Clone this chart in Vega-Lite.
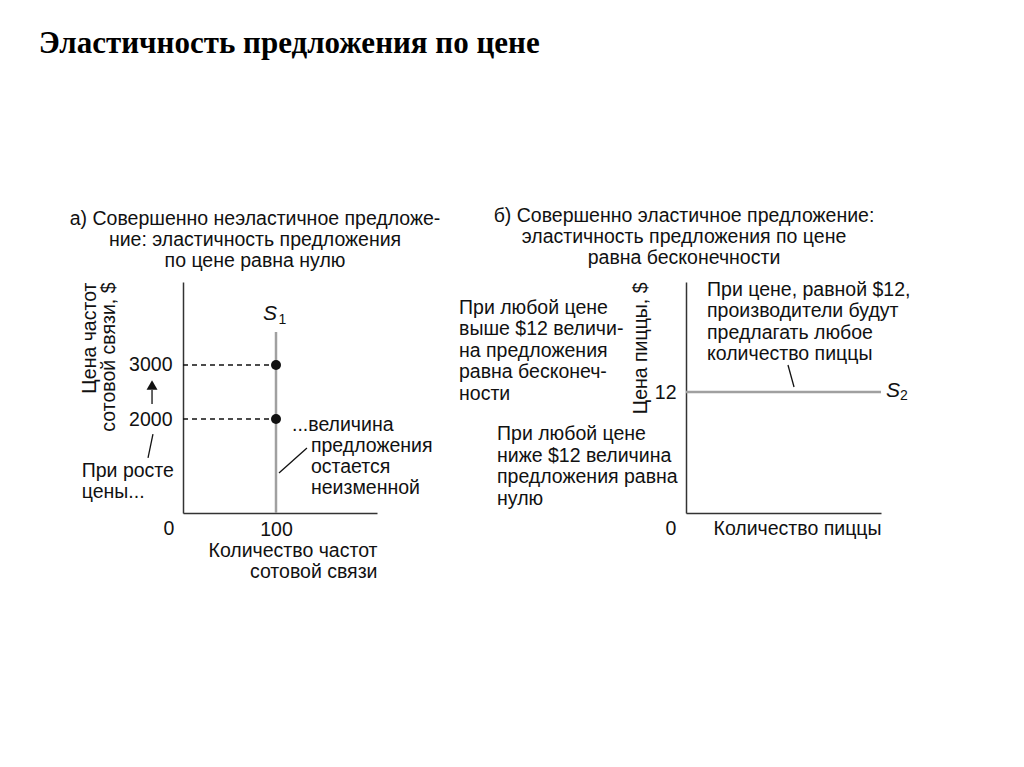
{
  "$schema": "https://vega.github.io/schema/vega-lite/v6.json",
  "background": "white",
  "padding": {"left": 38, "top": 28, "right": 10, "bottom": 10},
  "title": {"text": "Эластичность предложения по цене", "anchor": "start", "font": "Liberation Serif", "fontSize": 31, "fontWeight": "bold", "color": "#000", "dx": -31, "offset": 146},
  "config": {
    "font": "Liberation Sans",
    "view": {"stroke": null},
    "axis": {"grid": false, "ticks": false, "tickSize": 0, "domainColor": "#333", "domainWidth": 1.5, "labelFont": "Liberation Sans", "labelFontSize": 19.5, "labelColor": "#111", "titleFont": "Liberation Sans", "titleFontSize": 19.5, "titleFontWeight": "normal", "titleColor": "#111", "titleLineHeight": 21},
    "title": {"font": "Liberation Sans", "fontSize": 19.5, "fontWeight": "normal", "color": "#111"},
    "text": {"font": "Liberation Sans", "fontSize": 19.5, "color": "#111"}
  },
  "datasets": {
    "aDash": [{"x": 0, "x2": 100, "y": 3000}, {"x": 0, "x2": 100, "y": 2000}],
    "aSupply": [{"x": 100, "y": 259.3, "y2": 3611}],
    "aPoints": [{"x": 100, "y": 3000}, {"x": 100, "y": 2000}],
    "aPointers": [{"x": 103.2, "y": 1000, "x2": 133.3, "y2": 1463}, {"x": -32.3, "y": 1722, "x2": -37.6, "y2": 1278}, {"x": -33.3, "y": 2537, "x2": -33.3, "y2": 2278}],
    "aArrow": [{"x": -33.3, "y": 2630}],
    "aText": [{"x": 117.2, "y": 1778, "t": "...величина"}, {"x": 137.6, "y": 1389, "t": "предложения\nостается\nнеизменной"}, {"x": -108.9, "y": 926, "t": "При росте\nцены..."}],
    "aS": [{"x": 93.5, "y": 3833, "t": "S"}],
    "aSub": [{"x": 107, "y": 3759, "t": "1"}],
    "aZero": [{"x": 0, "y": 259.3, "t": "0"}],
    "bSupply": [{"x": 0, "x2": 100, "y": 12}],
    "bPointer": [{"x": 52.3, "y": 14.68, "x2": 55.4, "y2": 12.5}],
    "bText": [{"x": 10.8, "y": 21.57, "t": "При цене, равной $12,\nпроизводители будут\nпредлагать любое\nколичество пиццы"}, {"x": -116.4, "y": 19.78, "t": "При любой цене\nвыше $12 величи-\nна предложения\nравна бесконеч-\nности"}, {"x": -96.9, "y": 7.21, "t": "При любой цене\nниже $12 величина\nпредложения равна\nнулю"}],
    "bS": [{"x": 106.2, "y": 11.51, "t": "S"}],
    "bSub": [{"x": 111.8, "y": 11.21, "t": "2"}],
    "bZero": [{"x": 0, "y": 0, "t": "0"}]
  },
  "spacing": 309,
  "bounds": "flush",
  "hconcat": [
    {
      "width": 194,
      "height": 231,
      "title": {"text": ["а) Совершенно неэластичное предложе-", "ние: эластичность предложения", "по цене равна нулю"], "anchor": "middle", "frame": "group", "dx": -25, "lineHeight": 21, "offset": 11},
      "encoding": {
        "x": {"field": "x", "type": "quantitative", "scale": {"domain": [0, 208.6], "nice": false, "zero": false}, "axis": {"values": [100], "labelPadding": 7, "title": ["Количество частот", "сотовой связи"], "titleAnchor": "end", "titlePadding": 3}},
        "y": {"field": "y", "type": "quantitative", "scale": {"domain": [259.3, 4537], "nice": false, "zero": false}, "axis": {"values": [2000, 3000], "format": "d", "labelPadding": 11, "title": ["Цена частот", "сотовой связи, $"], "titleAnchor": "end", "titlePadding": 10, "titleLineHeight": 19}}
      },
      "layer": [
        {"data": {"name": "aDash"}, "mark": {"type": "rule", "strokeDash": [5, 4], "color": "#111", "strokeWidth": 1.3}, "encoding": {"x2": {"field": "x2"}}},
        {"data": {"name": "aSupply"}, "mark": {"type": "rule", "color": "#a0a0a0", "strokeWidth": 2.5}, "encoding": {"y2": {"field": "y2"}}},
        {"data": {"name": "aPoints"}, "mark": {"type": "point", "filled": true, "color": "#111", "size": 100, "opacity": 1}, "encoding": {}},
        {"data": {"name": "aPointers"}, "mark": {"type": "rule", "color": "#111", "strokeWidth": 1.3}, "encoding": {"x2": {"field": "x2"}, "y2": {"field": "y2"}}},
        {"data": {"name": "aArrow"}, "mark": {"type": "point", "shape": "triangle-up", "filled": true, "color": "#111", "size": 120, "opacity": 1}, "encoding": {}},
        {"data": {"name": "aText"}, "mark": {"type": "text", "align": "left", "baseline": "alphabetic", "lineBreak": "\n", "lineHeight": 21}, "encoding": {"text": {"field": "t"}}},
        {"data": {"name": "aS"}, "mark": {"type": "text", "align": "center", "baseline": "alphabetic", "fontStyle": "italic", "fontSize": 21}, "encoding": {"text": {"field": "t"}}},
        {"data": {"name": "aSub"}, "mark": {"type": "text", "align": "center", "baseline": "alphabetic", "fontSize": 14}, "encoding": {"text": {"field": "t"}}},
        {"data": {"name": "aZero"}, "mark": {"type": "text", "align": "center", "baseline": "top", "dx": -14, "dy": 7}, "encoding": {"text": {"field": "t"}}}
      ]
    },
    {
      "width": 195,
      "height": 231,
      "title": {"text": ["б) Совершенно эластичное предложение:", "эластичность предложения по цене", "равна бесконечности"], "anchor": "middle", "frame": "group", "dx": -99.5, "lineHeight": 21, "offset": 11},
      "encoding": {
        "x": {"field": "x", "type": "quantitative", "scale": {"domain": [0, 100], "nice": false, "zero": false}, "axis": {"labels": false, "title": "Количество пиццы", "titleAnchor": "end", "titlePadding": 6}},
        "y": {"field": "y", "type": "quantitative", "scale": {"domain": [0, 22.92], "nice": false, "zero": false}, "axis": {"values": [12], "labelPadding": 10, "title": "Цена пиццы, $", "titleAnchor": "end", "titlePadding": 4}}
      },
      "layer": [
        {"data": {"name": "bSupply"}, "mark": {"type": "rule", "color": "#a0a0a0", "strokeWidth": 2.5}, "encoding": {"x2": {"field": "x2"}}},
        {"data": {"name": "bPointer"}, "mark": {"type": "rule", "color": "#111", "strokeWidth": 1.3}, "encoding": {"x2": {"field": "x2"}, "y2": {"field": "y2"}}},
        {"data": {"name": "bText"}, "mark": {"type": "text", "align": "left", "baseline": "alphabetic", "lineBreak": "\n", "lineHeight": 21.5}, "encoding": {"text": {"field": "t"}}},
        {"data": {"name": "bS"}, "mark": {"type": "text", "align": "center", "baseline": "alphabetic", "fontStyle": "italic", "fontSize": 21}, "encoding": {"text": {"field": "t"}}},
        {"data": {"name": "bSub"}, "mark": {"type": "text", "align": "center", "baseline": "alphabetic", "fontSize": 14}, "encoding": {"text": {"field": "t"}}},
        {"data": {"name": "bZero"}, "mark": {"type": "text", "align": "center", "baseline": "top", "dx": -15, "dy": 7}, "encoding": {"text": {"field": "t"}}}
      ]
    }
  ]
}
